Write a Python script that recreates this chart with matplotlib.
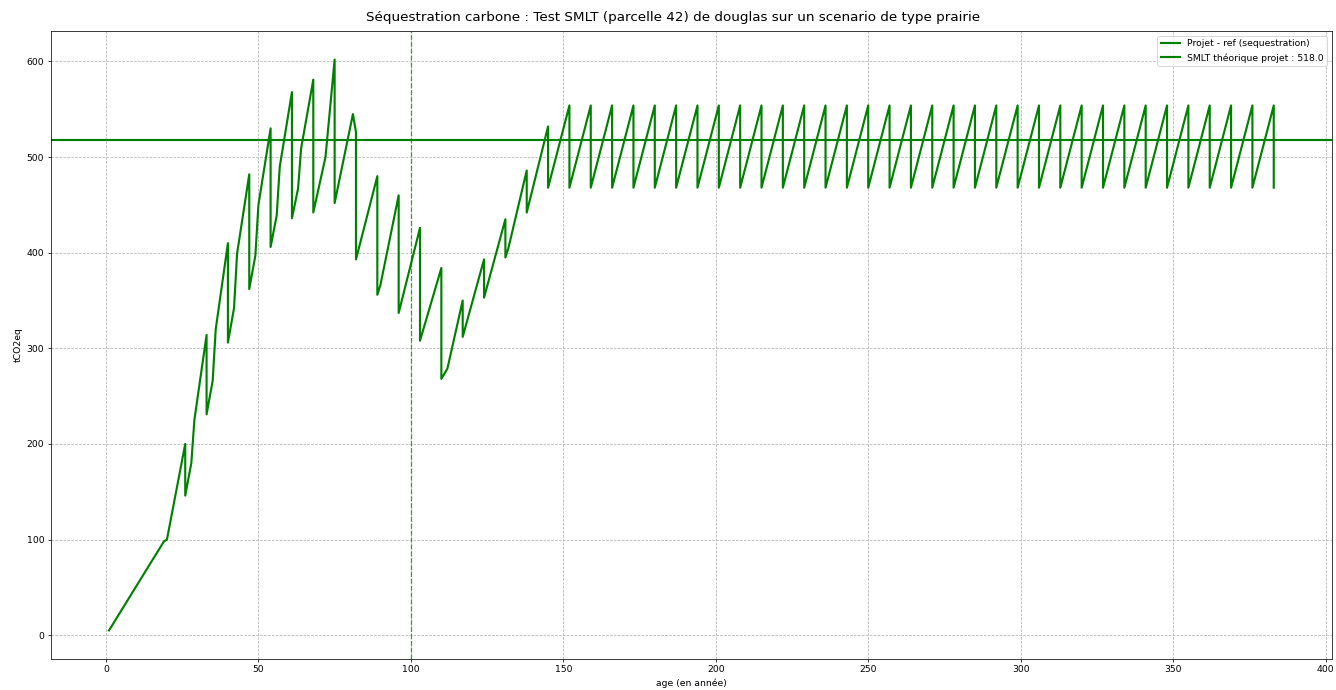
import matplotlib
matplotlib.use("Agg")
import matplotlib.pyplot as plt

# Data
ages = [1, 19, 20, 26, 26, 28, 29, 33, 33, 35, 36, 40, 40, 42, 43, 47, 47, 49, 50,
        54, 54, 56, 57, 61, 61, 63, 64, 68, 68, 72, 75, 75, 81, 82, 82, 89, 89, 90,
        96, 96, 103, 103, 110, 110, 112, 117, 117, 124, 124, 131, 131, 132, 138, 138,
        145, 145,
        152, 152, 159, 159, 166, 166, 173, 173, 180, 180, 187, 187, 194, 194, 201, 201,
        208, 208, 215, 215, 222, 222, 229, 229, 236, 236, 243, 243, 250, 250, 257, 257,
        264, 264, 271, 271, 278, 278, 285, 285, 292, 292, 299, 299, 306, 306, 313, 313,
        320, 320, 327, 327, 334, 334, 341, 341, 348, 348, 355, 355, 362, 362, 369, 369,
        376, 376, 383, 383]
sequestration = [5, 98, 100, 200, 146, 180, 225, 314, 231, 266, 320, 410, 306, 342, 399,
                 482, 362, 397, 450, 530, 406, 439, 490, 568, 436, 467, 509, 581, 442, 500,
                 602, 452, 545, 526, 393, 480, 356, 366, 460, 337, 426, 308, 384, 268, 279,
                 350, 312, 393, 353, 435, 395, 405, 486, 442, 532, 468,
                 554, 468, 554, 468, 554, 468, 554, 468, 554, 468, 554, 468, 554, 468,
                 554, 468, 554, 468, 554, 468, 554, 468, 554, 468, 554, 468, 554, 468,
                 554, 468, 554, 468, 554, 468, 554, 468, 554, 468, 554, 468, 554, 468,
                 554, 468, 554, 468, 554, 468, 554, 468, 554, 468, 554, 468, 554, 468,
                 554, 468, 554, 468, 554, 468, 554, 468, 554, 468, 554, 468]
smlt_value = 518.0
marker_age = 100

fig = plt.figure(figsize=(20, 10.33), dpi=66.8)
ax = fig.add_axes([0.038, 0.045, 0.959, 0.91])

ax.plot(ages, sequestration, color="green", linewidth=2.3,
        label="Projet - ref (sequestration)")
ax.axhline(smlt_value, color="green", linewidth=2.3,
           label=f"SMLT théorique projet : {smlt_value}")
ax.axvline(marker_age, color="green", linestyle="--", linewidth=1.4, alpha=0.7, zorder=3)

ax.set_xticks([0, 50, 100, 150, 200, 250, 300, 350, 400])
ax.set_yticks([0, 100, 200, 300, 400, 500, 600])
ax.grid(True, linestyle="--", color="#b0b0b0")
ax.set_xlabel("age (en année)")
ax.set_ylabel("tCO2eq")
fig.suptitle("Séquestration carbone : Test SMLT (parcelle 42) de douglas sur un scenario de type prairie",
             fontsize=14.5, x=0.504, y=0.974, va="center")
ax.legend(loc="upper right")

fig.savefig("out.png", dpi=66.8)
